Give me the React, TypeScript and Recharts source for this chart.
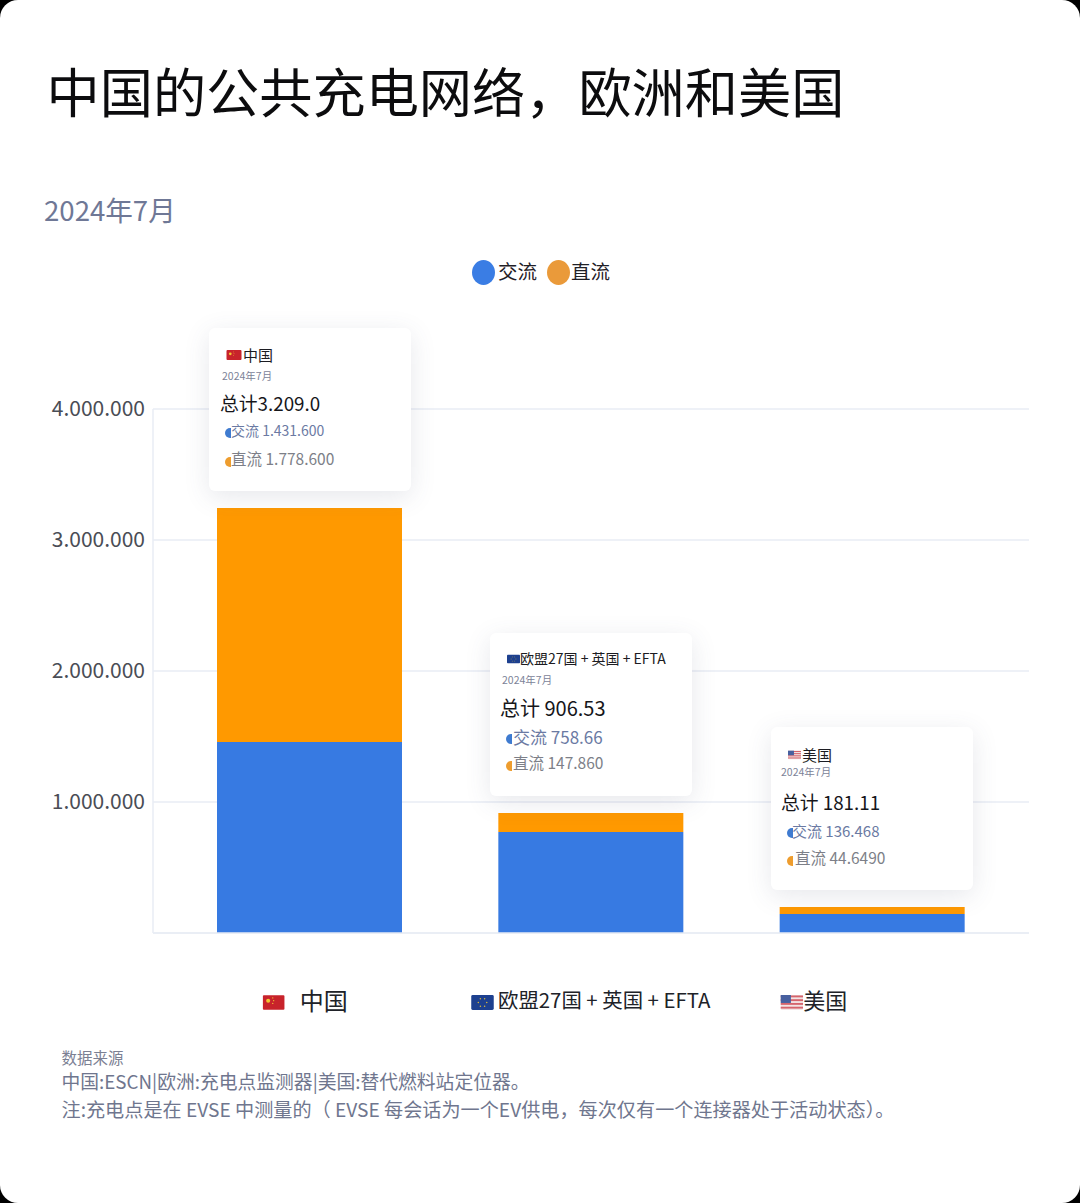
import { BarChart, Bar, XAxis, YAxis, CartesianGrid, Legend } from 'recharts'

const FONT = '"Noto Sans CJK SC", "Noto Sans", sans-serif'

// chart values
const regions = ['中国', '欧盟27国 + 英国 + EFTA', '美国']
const flagKeys = ['cn', 'eu', 'us']
const acValues = [1458000, 771000, 145000]
const dcValues = [1786000, 145000, 53000]
const yTicks = [0, 1000000, 2000000, 3000000, 4000000]

// printed on the cards
const cardDate = '2024年7月'
const cardTotals = ['总计3.209.0', '总计 906.53', '总计 181.11']
const cardAc = ['交流 1.431.600', '交流 758.66', '交流 136.468']
const cardDc = ['直流 1.778.600', '直流 147.860', '直流 44.6490']

const AC_COLOR = '#377ae2'
const DC_COLOR = '#ff9900'
const GRID_COLOR = '#e9ecf5'

const chartData = regions.map((name, i) => ({
    name,
    flag: flagKeys[i],
    ac: acValues[i],
    dc: dcValues[i]
}))

function Flag({ kind, x = 0, y = 0, w, h }: { kind: string; x?: number; y?: number; w: number; h: number }) {
    if (kind === 'cn') {
        return (
            <svg x={x} y={y} width={w} height={h} viewBox="0 0 24 16" style={{ display: 'block' }}>
                <rect width="24" height="16" rx="1.5" fill="#c8232b" />
                <circle cx="6" cy="6" r="2.2" fill="#f2c531" />
                <circle cx="11" cy="3" r="0.7" fill="#f2c531" />
                <circle cx="12" cy="6" r="0.7" fill="#f2c531" />
                <circle cx="11" cy="9" r="0.7" fill="#f2c531" />
            </svg>
        )
    }
    if (kind === 'eu') {
        const stars = [0, 60, 120, 180, 240, 300]
        return (
            <svg x={x} y={y} width={w} height={h} viewBox="0 0 24 16" style={{ display: 'block' }}>
                <rect width="24" height="16" rx="1.5" fill="#1d408f" />
                {stars.map((a) => (
                    <circle
                        key={a}
                        cx={12 + 4.5 * Math.cos((a * Math.PI) / 180)}
                        cy={8 + 4.5 * Math.sin((a * Math.PI) / 180)}
                        r="0.8"
                        fill="#d8b93c"
                    />
                ))}
            </svg>
        )
    }
    const stripes = [0, 1, 2, 3]
    return (
        <svg x={x} y={y} width={w} height={h} viewBox="0 0 24 16" style={{ display: 'block' }}>
            <rect width="24" height="16" rx="1.5" fill="#f3e4e4" />
            {stripes.map((s) => (
                <rect key={s} y={s * 4 + 0.5} width="24" height="2" fill="#d5646c" />
            ))}
            <rect width="11" height="8.5" fill="#47609f" />
        </svg>
    )
}

function Txt({ x, y, size, color, children }: { x: number; y: number; size: number; color: string; children: any }) {
    return (
        <div
            style={{
                position: 'absolute',
                left: x,
                top: y,
                transform: 'translateY(-50%)',
                fontSize: size,
                color,
                whiteSpace: 'nowrap',
                lineHeight: 1
            }}
        >
            {children}
        </div>
    )
}

function HalfDot({ x, y, color }: { x: number; y: number; color: string }) {
    return (
        <div
            style={{
                position: 'absolute',
                left: x,
                top: y - 5,
                width: 6,
                height: 10,
                background: color,
                borderRadius: '5px 0 0 5px'
            }}
        />
    )
}

// positions are page coordinates of each card's pieces
const cardLayouts = [
    { left: 209, top: 328, flagX: 226, flagW: 16, nameX: 243, nameY: 354, nameSize: 15, dateX: 222, dateY: 376, totalX: 220, totalY: 402.5, totalSize: 18.8, acX: 231, acY: 430, acSize: 14, dcX: 231, dcY: 458.5, dcSize: 15.5, dotX: 225 },
    { left: 490, top: 633, flagX: 507, flagW: 13, nameX: 520, nameY: 658, nameSize: 14, dateX: 502, dateY: 680, totalX: 500, totalY: 707.5, totalSize: 20, acX: 513, acY: 736, acSize: 17, dcX: 513, dcY: 762.5, dcSize: 15.5, dotX: 506 },
    { left: 771, top: 727, flagX: 788, flagW: 13, nameX: 802, nameY: 754, nameSize: 15, dateX: 781, dateY: 772, totalX: 781, totalY: 802, totalSize: 18.8, acX: 792, acY: 829.5, acSize: 15, dcX: 795, dcY: 858, dcSize: 15.5, dotX: 787 }
]

function Card({ i }: { i: number }) {
    const l = cardLayouts[i]
    return (
        <>
            <div
                style={{
                    position: 'absolute',
                    left: l.left,
                    top: l.top,
                    width: 202,
                    height: 163,
                    background: '#fff',
                    borderRadius: 6,
                    boxShadow: '0 6px 26px rgba(70,80,110,0.13)'
                }}
            />
            <div style={{ position: 'absolute', left: l.flagX, top: l.nameY - 4 }}>
                <Flag kind={flagKeys[i]} w={l.flagW} h={10} />
            </div>
            <Txt x={l.nameX} y={l.nameY} size={l.nameSize} color="#1c1c22">{regions[i]}</Txt>
            <Txt x={l.dateX} y={l.dateY} size={10.5} color="#7c8398">{cardDate}</Txt>
            <Txt x={l.totalX} y={l.totalY} size={l.totalSize} color="#16161a">{cardTotals[i]}</Txt>
            <HalfDot x={l.dotX} y={l.acY + 3} color="#3f7bd0" />
            <Txt x={l.acX} y={l.acY} size={l.acSize} color="#6b7aa3">{cardAc[i]}</Txt>
            <HalfDot x={l.dotX} y={l.dcY + 3} color="#ee9d2e" />
            <Txt x={l.dcX} y={l.dcY} size={l.dcSize} color="#7d7f88">{cardDc[i]}</Txt>
        </>
    )
}

// label sits differently under each group in the original
const tickLayouts = [
    { flagX: -47, flagW: 22, textX: -10, size: 24 },
    { flagX: -120, flagW: 23, textX: -93, size: 20.4 },
    { flagX: -92, flagW: 23, textX: -69, size: 22 }
]

function renderRegionTick({ x, y, index, payload }: any) {
    const t = tickLayouts[index]
    return (
        <g key={index}>
            <Flag kind={flagKeys[index]} x={x + t.flagX} y={y + 60} w={t.flagW} h={15} />
            <text x={x + t.textX} y={y + 66} dy="0.36em" fontSize={t.size} fontFamily={FONT} fill="#202228">
                {payload.value}
            </text>
        </g>
    )
}

function LegendContent() {
    const items = [
        { label: '交流', color: '#3a7de4', gap: 3, after: 10 },
        { label: '直流', color: '#ea9a3a', gap: 1, after: 0 }
    ]
    return (
        <div style={{ display: 'flex', alignItems: 'center', fontFamily: FONT }}>
            {items.map((it) => (
                <div key={it.label} style={{ display: 'flex', alignItems: 'center', marginRight: it.after }}>
                    <span style={{ width: 23, height: 25, borderRadius: '50%', background: it.color, marginRight: it.gap, marginTop: 5 }} />
                    <span style={{ fontSize: 19.5, color: '#1f2026' }}>{it.label}</span>
                </div>
            ))}
        </div>
    )
}

export default function App() {
    return (
        <div style={{ position: 'absolute', left: 0, top: 0, width: 1080, height: 1203, background: '#000', fontFamily: FONT, overflow: 'hidden' }}>
            <div style={{ position: 'absolute', inset: 0, background: '#fff', borderRadius: 18 }} />
            <Txt x={46.5} y={90} size={53.2} color="#0c0c0e">中国的公共充电网络，欧洲和美国</Txt>
            <Txt x={44} y={210} size={27.6} color="#6f7896">2024年7月</Txt>

            <div style={{ position: 'absolute', left: 0, top: 0 }}>
                <BarChart
                    width={1080}
                    height={1203}
                    data={chartData}
                    margin={{ top: 409, right: 51, bottom: 190, left: 0 }}
                    barCategoryGap={0}
                >
                    <CartesianGrid vertical={false} stroke={GRID_COLOR} strokeWidth={1.5} />
                    <XAxis
                        dataKey="name"
                        height={80}
                        interval={0}
                        padding={{ left: 16, right: 16 }}
                        tickLine={false}
                        tickSize={0}
                        axisLine={{ stroke: GRID_COLOR, strokeWidth: 1.5 }}
                        tick={renderRegionTick}
                    />
                    <YAxis
                        width={153}
                        domain={[0, 4000000]}
                        ticks={yTicks}
                        tickSize={0}
                        tickMargin={8}
                        tickLine={false}
                        axisLine={{ stroke: GRID_COLOR, strokeWidth: 1.5 }}
                        tick={{ fontSize: 21, fill: '#4a4d55', fontFamily: FONT }}
                        tickFormatter={(v: number) => (v === 0 ? '' : v.toLocaleString('de-DE'))}
                    />
                    <Legend
                        layout="horizontal"
                        verticalAlign="middle"
                        align="center"
                        content={<LegendContent />}
                        wrapperStyle={{ left: 472, top: 255, width: 'auto' }}
                    />
                    <Bar dataKey="ac" name="交流" stackId="a" fill={AC_COLOR} barSize={185} isAnimationActive={false} />
                    <Bar dataKey="dc" name="直流" stackId="a" fill={DC_COLOR} barSize={185} isAnimationActive={false} />
                </BarChart>
            </div>

            {regions.map((_, i) => (
                <Card key={i} i={i} />
            ))}

            <Txt x={61.5} y={1058} size={15.5} color="#7b8093">数据来源</Txt>
            <Txt x={61.5} y={1081} size={18.8} color="#6f768e">中国:ESCN|欧洲:充电点监测器|美国:替代燃料站定位器。</Txt>
            <Txt x={61.5} y={1109.5} size={19.15} color="#6f768e">注:充电点是在 EVSE 中测量的（ EVSE 每会话为一个EV供电，每次仅有一个连接器处于活动状态）。</Txt>
        </div>
    )
}
